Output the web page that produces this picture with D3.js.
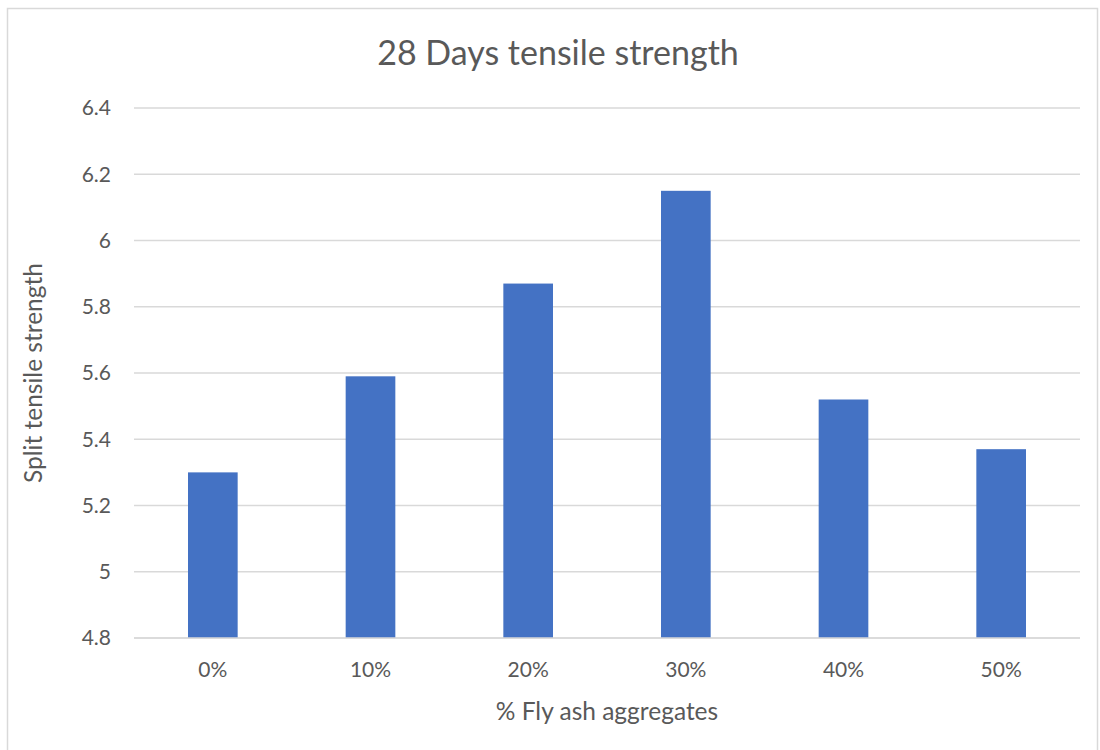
<!DOCTYPE html>
<html><head><meta charset="utf-8">
<script src="https://cdn.jsdelivr.net/npm/d3@7"></script>
<style>body{margin:0;background:#fff;} svg{display:block;} text{font-family:Lato,"Open Sans","Liberation Sans",sans-serif;fill:#595959;}</style>
</head><body>
<svg id="c" width="1100" height="750"></svg>
<script>
const categories = ["0%","10%","20%","30%","40%","50%"];
const values = [5.3,5.59,5.87,6.15,5.52,5.37];
const yTicks = [4.8,5,5.2,5.4,5.6,5.8,6,6.2,6.4];
const yTickLabels = ["4.8","5","5.2","5.4","5.6","5.8","6","6.2","6.4"];

const svg = d3.select("#c");
svg.append("rect").attr("x",7.5).attr("y",8.5).attr("width",1090).attr("height",745)
  .attr("fill","#fff").attr("stroke","#d9d9d9").attr("stroke-width",1.5);

const x = d3.scaleBand().domain(categories).range([134,1080]).paddingInner(0.685).paddingOuter(0.3425);
const y = d3.scaleLinear().domain([4.8,6.4]).range([638,108]);

const g = svg.append("g");
g.selectAll("line.grid").data(yTicks).enter().append("line")
  .attr("x1",134).attr("x2",1080).attr("y1",d=>y(d)).attr("y2",d=>y(d))
  .attr("stroke","#d9d9d9").attr("stroke-width",1.3);

g.selectAll("rect.bar").data(values).enter().append("rect")
  .attr("x",(d,i)=>x(categories[i])).attr("width",x.bandwidth())
  .attr("y",d=>y(d)).attr("height",d=>y(4.8)-y(d)).attr("fill","#4472c4");

g.append("line").attr("x1",134).attr("x2",1080).attr("y1",y(4.8)).attr("y2",y(4.8))
  .attr("stroke","#d9d9d9").attr("stroke-width",1.3);

g.selectAll("text.yt").data(yTicks).enter().append("text")
  .attr("x",111).attr("y",d=>y(d)).attr("dy","0.35em").attr("text-anchor","end")
  .attr("font-size",21).text((d,i)=>yTickLabels[i]);

g.selectAll("text.xt").data(categories).enter().append("text")
  .attr("x",d=>x(d)+x.bandwidth()/2).attr("y",670).attr("dy","0.35em").attr("text-anchor","middle")
  .attr("font-size",21).text(d=>d);

svg.append("text").attr("x",558).attr("y",53).attr("dy","0.35em").attr("text-anchor","middle")
  .attr("font-size",34).text("28 Days tensile strength");
svg.append("text").attr("x",607).attr("y",711).attr("dy","0.35em").attr("text-anchor","middle")
  .attr("font-size",24.5).text("% Fly ash aggregates");
svg.append("text").attr("transform","translate(33,373) rotate(-90)").attr("dy","0.35em").attr("text-anchor","middle")
  .attr("font-size",24.5).text("Split tensile strength");
</script>
</body></html>
